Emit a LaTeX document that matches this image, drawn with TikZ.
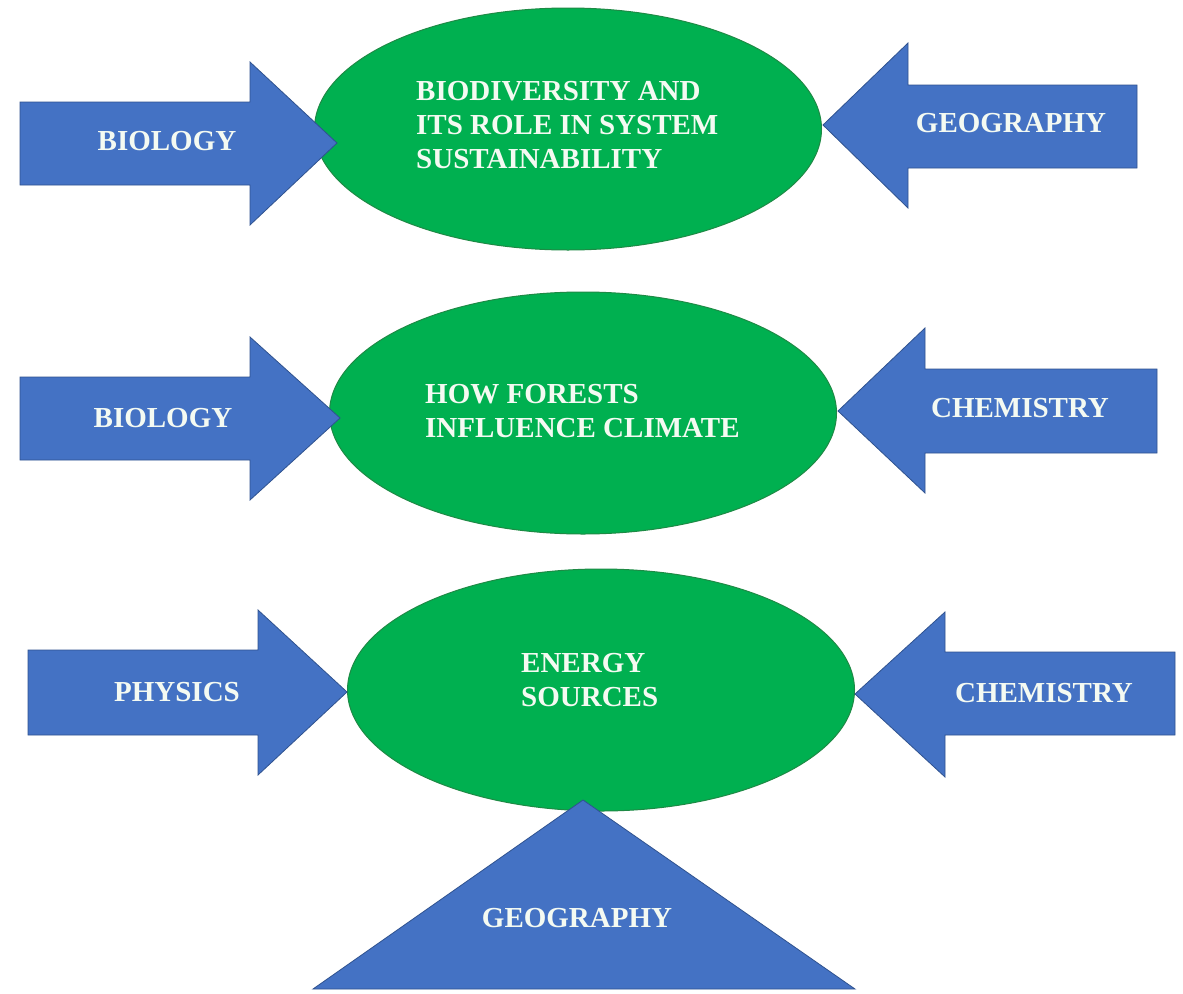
\documentclass[tikz,border=0pt]{standalone}
\usepackage{fontspec}
\setmainfont{Liberation Serif}
\usetikzlibrary{shapes.geometric}
\definecolor{topicgreen}{HTML}{00B050}
\definecolor{topicedge}{HTML}{1E8A45}
\definecolor{subjblue}{HTML}{4472C4}
\definecolor{subjedge}{HTML}{2F528F}
\definecolor{labeltext}{HTML}{F4FAF2}
\tikzset{
  topic/.style={ellipse, draw=topicedge, fill=topicgreen, line width=1pt,
    minimum width=507pt, minimum height=242pt, inner sep=0pt},
  subject/.style={draw=subjedge, fill=subjblue, line width=0.8pt, line join=miter},
  lbl/.style={text=labeltext, font=\fontsize{29}{34}\selectfont\bfseries, inner sep=0pt},
  topictext/.style={lbl, align=left, anchor=west}
}
\begin{document}
\begin{tikzpicture}[x=1pt,y=-1pt]
\useasboundingbox[fill=white] (0,0) rectangle (1183,993);

% topics
\node[topic] (e1) at (568,129) {};
\node[topic] (e2) at (583,413) {};
\node[topic] (e3) at (601,690) {};

% row 1 arrows
\draw[subject] (20,102) -- (250,102) -- (250,62) -- (337,143) -- (250,225) -- (250,185) -- (20,185) -- cycle;
\draw[subject] (1137,85) -- (908,85) -- (908,43) -- (823,125) -- (908,208) -- (908,168) -- (1137,168) -- cycle;
% row 2 arrows
\draw[subject] (20,377) -- (250,377) -- (250,337) -- (340,418) -- (250,500) -- (250,460) -- (20,460) -- cycle;
\draw[subject] (1157,369) -- (925,369) -- (925,328) -- (838,411) -- (925,493) -- (925,453) -- (1157,453) -- cycle;
% row 3 arrows
\draw[subject] (28,650) -- (258,650) -- (258,610) -- (347,692) -- (258,775) -- (258,735) -- (28,735) -- cycle;
\draw[subject] (1175,652) -- (945,652) -- (945,612) -- (855,694) -- (945,777) -- (945,735) -- (1175,735) -- cycle;
% triangle
\draw[subject] (583,800) -- (855,989) -- (313,989) -- cycle;

% labels
\node[topictext] (t1) at (416,125) {BIODIVERSITY AND\\ITS ROLE IN SYSTEM\\SUSTAINABILITY};
\node[topictext] (t2) at (425,411) {HOW FORESTS\\INFLUENCE CLIMATE};
\node[topictext] (t3) at (521,680) {ENERGY\\SOURCES};

\node[lbl] (s1) at (167,141) {BIOLOGY};
\node[lbl] (s2) at (1011,123) {GEOGRAPHY};
\node[lbl] (s3) at (163,418) {BIOLOGY};
\node[lbl] (s4) at (1020,408) {CHEMISTRY};
\node[lbl] (s5) at (177,692) {PHYSICS};
\node[lbl] (s6) at (1044,693) {CHEMISTRY};
\node[lbl] (s7) at (577,918) {GEOGRAPHY};
\end{tikzpicture}
\end{document}
